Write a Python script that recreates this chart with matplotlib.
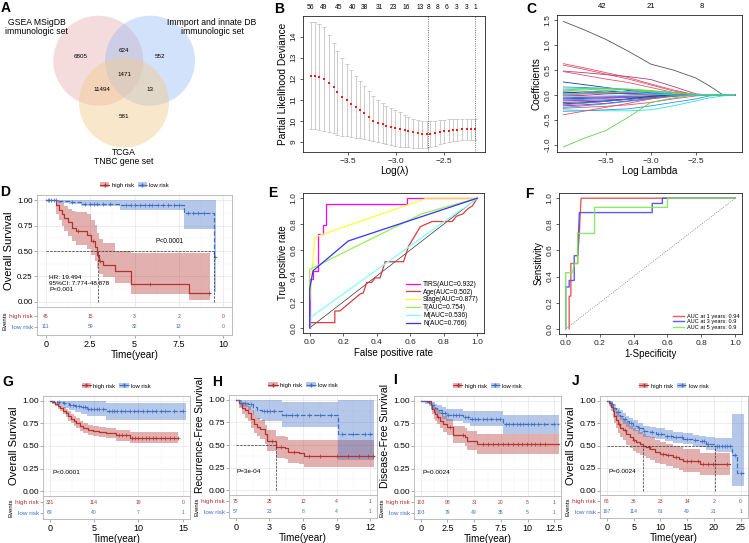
import numpy as np
import matplotlib
matplotlib.use('Agg')
import matplotlib.pyplot as plt
import matplotlib.transforms as mtransforms
from matplotlib.patches import Circle, Patch
from matplotlib.lines import Line2D

plt.rcParams['font.family'] = ['Liberation Sans', 'DejaVu Sans']
plt.rcParams['axes.linewidth'] = 0.6

# ---------------- A: Venn ----------------
venn_labels = ['GSEA MSigDB\nimmunologic set', 'Immport and innate DB\nimmunologic set', 'TCGA\nTNBC gene set']
venn_colors = ['#E9B3B3', '#9DBFF4', '#F3CB8E']
venn_counts = [6805, 624, 552, 1471, 11494, 13, 581]

# ---------------- B: cross-validation ----------------
b_loglam = [-3.89, -3.84, -3.80, -3.75, -3.70, -3.65, -3.61, -3.56, -3.51, -3.47, -3.42, -3.38, -3.33,
            -3.28, -3.24, -3.19, -3.14, -3.10, -3.05, -3.01, -2.96, -2.91, -2.87, -2.82, -2.77, -2.73,
            -2.68, -2.64, -2.59, -2.54, -2.50, -2.45, -2.40, -2.36, -2.31, -2.26, -2.22, -2.17]
b_mean = [12.15, 12.15, 12.10, 12.00, 11.80, 11.60, 11.35, 11.15, 11.00, 10.80, 10.65, 10.50, 10.35,
          10.20, 10.00, 9.90, 9.85, 9.75, 9.70, 9.65, 9.60, 9.55, 9.50, 9.45, 9.40, 9.38,
          9.36, 9.37, 9.40, 9.45, 9.50, 9.52, 9.55, 9.58, 9.60, 9.60, 9.60, 9.60]
b_upper = [14.70, 14.70, 14.60, 14.45, 14.10, 13.70, 13.30, 13.00, 12.70, 12.40, 12.15, 11.90, 11.65,
           11.40, 11.20, 11.00, 10.85, 10.70, 10.60, 10.50, 10.40, 10.30, 10.20, 10.10, 10.05, 10.00,
           9.98, 9.97, 9.99, 10.02, 10.05, 10.07, 10.08, 10.10, 10.10, 10.10, 10.10, 10.10]
b_lower = [9.60, 9.60, 9.55, 9.50, 9.45, 9.40, 9.35, 9.30, 9.28, 9.25, 9.20, 9.18, 9.15,
           9.10, 9.05, 9.00, 8.95, 8.88, 8.84, 8.80, 8.78, 8.76, 8.74, 8.73, 8.72, 8.72,
           8.72, 8.75, 8.80, 8.88, 8.95, 9.00, 9.02, 9.05, 9.07, 9.08, 9.08, 9.08]
b_top_loglam = [-3.89, -3.755, -3.594, -3.455, -3.325, -3.168, -3.028, -2.888, -2.748, -2.66,
                -2.566, -2.469, -2.364, -2.266, -2.171]
b_top_n = [56, 49, 45, 40, 38, 31, 23, 16, 13, 8, 8, 6, 3, 3, 1]
b_cut = [-2.66, -2.17]

# ---------------- C: coefficient paths ----------------
c_knots = [-3.97, -3.75, -3.5, -3.25, -3.0, -2.75, -2.5, -2.35, -2.2, -2.07]
c_paths = [
    [1.48, 1.32, 1.12, 0.88, 0.62, 0.50, 0.34, 0.18, 0.0],
    [0.63, 0.55, 0.45, 0.35, 0.22, 0.10, 0.0],
    [0.60, 0.52, 0.42, 0.32, 0.20, 0.08, 0.0],
    [0.48, 0.45, 0.41, 0.37, 0.31, 0.17, 0.02, 0.0],
    [0.47, 0.40, 0.32, 0.25, 0.15, 0.05, 0.0],
    [0.26, 0.21, 0.15, 0.09, 0.04, 0.01, 0.0],
    [0.16, 0.15, 0.13, 0.10, 0.06, 0.02, 0.0],
    [0.12, 0.13, 0.14, 0.11, 0.06, 0.01, 0.0],
    [0.10, 0.12, 0.13, 0.12, 0.09, 0.04, 0.0],
    [0.08, 0.10, 0.12, 0.11, 0.08, 0.05, 0.01, 0.0],
    [0.06, 0.05, 0.04, 0.02, 0.0],
    [0.04, 0.06, 0.08, 0.05, 0.02, 0.0],
    [0.02, 0.03, 0.05, 0.06, 0.04, 0.01, 0.0],
    [0.00, 0.02, 0.04, 0.02, 0.0],
    [-0.02, -0.01, 0.02, 0.03, 0.02, 0.0],
    [-0.04, -0.03, -0.02, -0.01, 0.0],
    [-0.06, -0.05, -0.04, -0.03, -0.02, -0.01, 0.0],
    [-0.08, -0.07, -0.06, -0.05, -0.04, -0.02, 0.0],
    [-0.10, -0.09, -0.07, -0.05, -0.03, 0.0],
    [-0.12, -0.11, -0.10, -0.08, -0.05, -0.02, 0.0],
    [-0.15, -0.14, -0.12, -0.09, -0.05, -0.01, 0.0],
    [-0.18, -0.16, -0.13, -0.08, -0.03, 0.0],
    [-0.20, -0.17, -0.13, -0.09, -0.05, -0.01, 0.0],
    [-0.22, -0.20, -0.17, -0.12, -0.07, -0.02, 0.0],
    [-0.25, -0.22, -0.18, -0.13, -0.08, -0.03, 0.0],
    [-0.27, -0.25, -0.23, -0.20, -0.15, -0.08, -0.02, 0.0],
    [-0.30, -0.31, -0.32, -0.32, -0.30, -0.22, -0.12, -0.06, -0.02, 0.0],
    [-0.33, -0.32, -0.30, -0.28, -0.22, -0.15, -0.08, -0.02, 0.0],
    [-0.40, -0.33, -0.25, -0.17, -0.08, -0.02, 0.0],
    [-1.05, -0.88, -0.72, -0.45, -0.15, -0.06, 0.0],
    [0.00, 0.02, 0.04, 0.06, 0.07, 0.05, 0.0],
    [0.00, 0.05, 0.10, 0.06, 0.02, 0.0],
]
c_colors = ['#555555', '#DF536B', '#DF536B', '#B0407A', '#DF536B', '#1F3A93', '#2297E6', '#28E2E5',
            '#61D04F', '#61D04F', '#CD0BBC', '#333333', '#2297E6', '#DF536B', '#CD0BBC', '#28E2E5',
            '#CD0BBC', '#1F3A93', '#2297E6', '#CD0BBC', '#1F3A93', '#333333', '#2297E6', '#CD0BBC',
            '#2297E6', '#DF536B', '#28E2E5', '#2297E6', '#DF536B', '#61D04F', '#61D04F', '#28E2E5']
c_top_loglam = [-3.537, -3.0, -2.437]
c_top_n = [42, 21, 8]

# ---------------- E: ROC of clinical factors ----------------
roc_names = ['TIRS(AUC=0.932)', 'Age(AUC=0.502)', 'Stage(AUC=0.877)', 'T(AUC=0.754)', 'M(AUC=0.536)', 'N(AUC=0.766)']
roc_colors = ['#FF00FF', '#E03A3A', '#FFFF33', '#99EE55', '#88FFFF', '#3333FF']
roc_fpr = [
    [0, 0, 0.02, 0.02, 0.05, 0.05, 0.08, 0.08, 0.10, 0.10, 0.58, 0.58, 1.0],
    [0, 0, 0.15, 0.15, 0.18, 0.30, 0.32, 0.34, 0.37, 0.39, 0.42, 0.45, 0.56, 0.59, 0.66, 0.73, 0.85, 0.875, 0.915, 0.945, 0.97, 1.0],
    [0, 0, 0.03, 0.70, 1.0],
    [0, 0, 0.03, 0.67, 1.0],
    [0, 0, 0.90, 0.93, 0.96, 1.0],
    [0, 0, 0.02, 0.23, 1.0],
]
roc_tpr = [
    [0, 0.38, 0.38, 0.44, 0.44, 0.72, 0.72, 0.79, 0.79, 0.955, 0.955, 1.0, 1.0],
    [0, 0.04, 0.04, 0.13, 0.13, 0.26, 0.27, 0.35, 0.35, 0.385, 0.385, 0.51, 0.51, 0.63, 0.78, 0.82, 0.82, 0.86, 0.88, 0.92, 0.94, 1.0],
    [0, 0.19, 0.70, 1.0, 1.0],
    [0, 0.45, 0.47, 0.88, 1.0],
    [0, 0.077, 0.91, 0.93, 0.96, 1.0],
    [0, 0.30, 0.44, 0.67, 1.0],
]

# ---------------- F: time-dependent ROC ----------------
troc_names = ['AUC at 1 years: 0.94', 'AUC at 3 years: 0.9', 'AUC at 5 years: 0.9']
troc_colors = ['#E84A4A', '#4A4AEE', '#7DE85A']
troc_fpr = [
    [0.02, 0.02, 0.03, 0.03, 0.07, 0.07, 0.08, 0.09, 1.0],
    [0, 0, 0.02, 0.02, 0.05, 0.05, 0.07, 0.08, 0.51, 0.51, 0.57, 0.57, 1.0],
    [0, 0, 0.04, 0.05, 0.07, 0.07, 0.17, 0.17, 0.60, 0.60, 1.0],
]
troc_tpr = [
    [0, 0.25, 0.25, 0.50, 0.50, 0.55, 0.73, 1.0, 1.0],
    [0, 0.32, 0.32, 0.37, 0.37, 0.56, 0.56, 0.89, 0.89, 0.96, 0.96, 1.0, 1.0],
    [0, 0.43, 0.43, 0.50, 0.50, 0.73, 0.73, 0.93, 0.93, 1.0, 1.0],
]

# ---------------- D, G-J: Kaplan-Meier ----------------
# D  (TCGA-TNBC, overall survival)
d_hi_t = [0, 0.6, 0.75, 0.9, 1.05, 1.25, 1.45, 1.7, 2.3, 2.55, 2.75, 2.9, 3.0, 3.2, 3.9, 4.8, 8.1]
d_hi_s = [1.0, 0.95, 0.90, 0.86, 0.82, 0.78, 0.73, 0.70, 0.66, 0.60, 0.54, 0.46, 0.40, 0.36, 0.30, 0.18, 0.09]
d_hi_up = [1.0, 1.0, 0.99, 0.97, 0.94, 0.91, 0.89, 0.88, 0.86, 0.80, 0.76, 0.68, 0.62, 0.58, 0.50, 0.48, 0.48]
d_hi_lo = [1.0, 0.86, 0.80, 0.75, 0.70, 0.65, 0.60, 0.56, 0.52, 0.46, 0.40, 0.33, 0.27, 0.24, 0.19, 0.08, 0.02]
d_hi_end = 9.25
d_hi_cens = [1.8, 2.65, 3.05, 5.9, 9.2]
d_lo_t = [0, 0.7, 1.3, 2.0, 4.2, 7.8, 9.5]
d_lo_s = [1.0, 0.99, 0.98, 0.965, 0.955, 0.87, 0.44]
d_lo_up = [1.0, 1.0, 1.0, 1.0, 1.0, 1.0, 1.0]
d_lo_lo = [1.0, 0.975, 0.96, 0.94, 0.90, 0.72, 0.10]
d_lo_end = 9.62
d_lo_cens = [0.1, 0.2, 0.3, 0.45, 0.55, 1.5, 2.2, 2.5, 2.7, 2.9, 3.2, 3.6, 4.5, 4.8, 5.0, 5.3, 5.6,
             5.8, 6.0, 6.3, 6.6, 6.9, 7.2, 7.5, 8.0, 8.3, 8.6, 8.9, 9.55]
d_tab_t = [0, 2.5, 5, 7.5, 10]
d_tab_hi = [45, 15, 3, 2, 0]
d_tab_lo = [111, 59, 32, 13, 0]

# G (overall survival)
g_hi_t = [0, 0.3, 0.6, 0.9, 1.2, 1.5, 1.8, 2.1, 2.4, 2.7, 3.0, 3.4, 3.8, 4.3, 4.9, 5.6, 6.4, 7.5, 9.1]
g_hi_s = [1.0, 0.98, 0.96, 0.94, 0.92, 0.89, 0.86, 0.83, 0.80, 0.77, 0.75, 0.72, 0.70, 0.68, 0.66, 0.65, 0.64, 0.62, 0.59]
g_hi_up = [1.0, 0.995, 0.985, 0.97, 0.955, 0.93, 0.905, 0.88, 0.85, 0.825, 0.805, 0.775, 0.755, 0.735, 0.715, 0.705, 0.695, 0.68, 0.65]
g_hi_lo = [1.0, 0.965, 0.94, 0.91, 0.885, 0.85, 0.815, 0.78, 0.75, 0.715, 0.695, 0.665, 0.645, 0.625, 0.605, 0.595, 0.585, 0.56, 0.53]
g_hi_end = 14.5
g_hi_cens = [7.8, 8.2, 8.6, 9.3, 9.6, 10.0, 10.4, 10.8, 11.2, 11.6, 12.0, 12.5, 13.0, 13.5, 14.0, 14.4]
g_lo_t = [0, 0.8, 1.5, 2.2, 2.8, 3.5, 4.2, 6.4]
g_lo_s = [1.0, 0.985, 0.97, 0.955, 0.94, 0.925, 0.91, 0.88]
g_lo_up = [1.0, 1.0, 1.0, 1.0, 1.0, 1.0, 0.99, 0.97]
g_lo_lo = [1.0, 0.95, 0.92, 0.895, 0.875, 0.855, 0.835, 0.79]
g_lo_end = 15.3
g_lo_cens = [1.0, 1.6, 2.3, 2.6, 3.0, 3.3, 3.7, 4.0, 4.3, 4.6, 5.0, 5.3, 5.6, 6.0, 6.7, 7.0, 7.3, 7.6,
             8.0, 8.5, 9.0, 9.5, 10.0, 10.5, 11.0, 11.5, 12.0, 12.5, 13.0, 14.0, 15.0]
g_tab_t = [0, 5, 10, 15]
g_tab_hi = [331, 114, 19, 0]
g_tab_lo = [69, 40, 7, 1]

# H (recurrence-free survival)
h_hi_t = [0, 0.3, 0.55, 0.8, 1.1, 1.35, 1.6, 1.9, 2.2, 2.6, 2.75, 3.57, 4.4, 4.7, 5.6, 6.05]
h_hi_s = [1.0, 0.96, 0.91, 0.88, 0.85, 0.79, 0.73, 0.70, 0.68, 0.62, 0.545, 0.48, 0.47, 0.42, 0.41, 0.38]
h_hi_up = [1.0, 1.0, 0.97, 0.95, 0.93, 0.88, 0.83, 0.80, 0.78, 0.72, 0.66, 0.60, 0.59, 0.55, 0.55, 0.55]
h_hi_lo = [1.0, 0.91, 0.84, 0.80, 0.76, 0.69, 0.63, 0.60, 0.57, 0.51, 0.43, 0.36, 0.35, 0.30, 0.29, 0.26]
h_hi_end = 12.3
h_hi_cens = [3.2, 4.0, 5.2, 6.5, 7.5, 9.0, 10.0, 11.0, 11.8, 12.2]
h_lo_t = [0, 0.4, 1.1, 1.5, 1.9, 2.3, 4.1, 9.1]
h_lo_s = [1.0, 0.965, 0.95, 0.92, 0.89, 0.87, 0.83, 0.62]
h_lo_up = [1.0, 1.0, 1.0, 1.0, 1.0, 1.0, 0.97, 1.0]
h_lo_lo = [1.0, 0.92, 0.88, 0.83, 0.79, 0.76, 0.70, 0.34]
h_lo_end = 12.3
h_lo_cens = [0.8, 1.4, 2.5, 2.8, 3.1, 3.4, 4.5, 5.0, 5.5, 6.5, 7.5, 8.5, 9.5, 10.5, 11.5, 12.0]
h_tab_t = [0, 3, 6, 9, 12]
h_tab_hi = [75, 25, 12, 4, 1]
h_tab_lo = [57, 23, 8, 4, 1]

# I (disease-free survival)
i_hi_t = [0, 0.9, 1.0, 1.1, 1.2, 1.35, 1.5, 1.8, 2.1, 2.5, 3.06, 4.15, 4.3, 5.25]
i_hi_s = [1.0, 0.99, 0.95, 0.91, 0.87, 0.85, 0.82, 0.78, 0.74, 0.71, 0.62, 0.60, 0.56, 0.52]
i_hi_up = [1.0, 1.0, 1.0, 0.97, 0.94, 0.92, 0.90, 0.87, 0.83, 0.80, 0.72, 0.70, 0.66, 0.63]
i_hi_lo = [1.0, 0.97, 0.90, 0.85, 0.80, 0.78, 0.74, 0.70, 0.65, 0.62, 0.53, 0.50, 0.46, 0.41]
i_hi_end = 12.9
i_hi_cens = [1.6, 2.7, 4.0, 5.8, 6.3, 6.8, 7.2, 7.7, 8.2, 8.6, 9.1, 9.5, 9.9, 10.3, 10.7, 11.2, 11.6]
i_lo_t = [0, 0.4, 0.8, 1.0, 1.3, 1.5, 1.97, 2.4, 4.0, 4.6, 7.7]
i_lo_s = [1.0, 0.985, 0.97, 0.95, 0.92, 0.90, 0.86, 0.84, 0.82, 0.80, 0.74]
i_lo_up = [1.0, 1.0, 0.995, 0.985, 0.965, 0.95, 0.925, 0.91, 0.89, 0.88, 0.84]
i_lo_lo = [1.0, 0.96, 0.94, 0.91, 0.875, 0.85, 0.80, 0.77, 0.75, 0.72, 0.63]
i_lo_end = 12.9
i_lo_cens = [2.0, 2.3, 2.6, 3.0, 3.3, 3.6, 4.1, 4.4, 4.8, 5.1, 5.4, 5.8, 6.2, 6.6, 7.0, 7.4, 8.0, 8.3,
             8.6, 9.0, 9.3, 9.6, 10.0, 10.3, 10.6, 11.0, 11.5, 12.5]
i_tab_t = [0, 2.5, 5, 7.5, 10, 12.5]
i_tab_hi = [103, 98, 31, 20, 5, 1]
i_tab_lo = [103, 79, 49, 35, 5, 1]

# J (overall survival)
j_hi_t = [0, 0.4, 0.8, 1.1, 1.4, 1.7, 2.0, 2.5, 3.0, 3.6, 4.25, 4.9, 5.5, 6.1, 6.75, 7.4, 8.0, 9.0, 9.9, 11.0, 12.4, 13.4, 14.3, 17.4]
j_hi_s = [1.0, 0.97, 0.93, 0.88, 0.83, 0.78, 0.74, 0.70, 0.67, 0.63, 0.59, 0.56, 0.54, 0.52, 0.50, 0.48, 0.46, 0.43, 0.41, 0.39, 0.37, 0.35, 0.33, 0.29]
j_hi_up = [1.0, 0.99, 0.98, 0.95, 0.92, 0.88, 0.85, 0.82, 0.79, 0.76, 0.72, 0.69, 0.67, 0.65, 0.63, 0.61, 0.59, 0.56, 0.54, 0.52, 0.50, 0.48, 0.46, 0.42]
j_hi_lo = [1.0, 0.94, 0.88, 0.81, 0.75, 0.69, 0.64, 0.60, 0.56, 0.51, 0.47, 0.44, 0.42, 0.40, 0.38, 0.36, 0.34, 0.31, 0.29, 0.27, 0.25, 0.23, 0.21, 0.17]
j_hi_end = 23.0
j_hi_cens = [2.3, 3.3, 5.0, 7.8, 10.5, 11.5, 13.0, 15.0, 15.8, 17.0, 18.0, 19.0, 19.8, 22.5]
j_lo_t = [0, 0.5, 1.1, 1.7, 2.4, 3.0, 3.6, 4.2, 4.9, 5.8, 6.75, 8.0, 9.25, 10.8, 12.4, 14.2, 16.1, 17.3, 18.6, 20.2, 23.4, 24.4]
j_lo_s = [1.0, 0.96, 0.92, 0.87, 0.83, 0.80, 0.77, 0.745, 0.72, 0.69, 0.66, 0.645, 0.63, 0.61, 0.59, 0.575, 0.56, 0.545, 0.52, 0.50, 0.39, 0.20]
j_lo_up = [1.0, 0.99, 0.96, 0.92, 0.89, 0.86, 0.83, 0.81, 0.78, 0.75, 0.72, 0.705, 0.69, 0.67, 0.65, 0.635, 0.62, 0.61, 0.59, 0.58, 0.85, 0.85]
j_lo_lo = [1.0, 0.93, 0.88, 0.82, 0.78, 0.74, 0.71, 0.68, 0.66, 0.63, 0.60, 0.585, 0.57, 0.55, 0.53, 0.515, 0.50, 0.48, 0.45, 0.43, 0.05, 0.05]
j_lo_end = 25.6
j_lo_cens = [1.0, 2.0, 3.3, 4.5, 6.0, 7.0, 8.5, 9.5, 10.2, 11.2, 12.0, 13.0, 14.0, 15.0, 16.5, 17.8,
             18.2, 19.0, 20.5, 21.0, 21.5, 22.0, 22.5, 23.0, 24.0, 25.0]
j_tab_t = [0, 5, 10, 15, 20, 25]
j_tab_hi = [68, 36, 23, 14, 2, 0]
j_tab_lo = [167, 114, 81, 49, 21, 1]

RED, BLUE = '#B5322E', '#3D6FC6'
W, H = 749, 543
fig = plt.figure(figsize=(W / 100, H / 100), dpi=100)


def box(l, t, r, b):
    # axes placed by pixel edges (top-left origin)
    return fig.add_axes([l / W, 1 - b / H, (r - l) / W, (b - t) / H])


def r_style(ax, size=6):
    for s in ax.spines.values():
        s.set_linewidth(0.6)
        s.set_color('#222222')
    ax.tick_params(direction='out', length=2.5, width=0.5, labelsize=size, pad=1.5, colors='#222222')
    ax.tick_params(axis='y', labelrotation=90)
    for lab in ax.get_yticklabels():
        lab.set_va('center')


# ---- A ----
axA = box(0, 0, 250, 175)
axA.set_xlim(0, 250)
axA.set_ylim(175, 0)
axA.axis('off')
for (cx, cy), col in zip([(98.3, 60.7), (150, 60.7), (124, 102.5)], venn_colors):
    axA.add_patch(Circle((cx, cy), 45, facecolor=col, alpha=0.45, lw=0))
for (x, y), lab in zip([(36.7, 27), (212, 27), (124, 157)], venn_labels):
    axA.text(x, y, lab, ha='center', va='center', fontsize=6.2, linespacing=1.05)
for (x, y), n in zip([(80.7, 56), (124, 50), (160, 56), (124, 74), (101.7, 89.3), (150, 89.3), (124, 116)], venn_counts):
    axA.text(x, y, str(n), ha='center', va='center', fontsize=4.5)

# ---- B ----
axB = box(303, 16, 485, 152)
bm = np.array(b_mean)
axB.errorbar(b_loglam, b_mean, yerr=[bm - np.array(b_lower), np.array(b_upper) - bm], fmt='none',
             ecolor='#C4C4C4', elinewidth=0.6, capsize=1.5, capthick=0.6)
axB.plot(b_loglam, b_mean, 's', color='#E8201A', ms=1.5, mew=0)
for v in b_cut:
    axB.axvline(v, color='#444444', ls=':', lw=0.6)
axB.set_xlim(-3.97, -2.07)
axB.set_ylim(8.52, 14.98)
axB.set_xticks([-3.5, -3.0, -2.5])
axB.set_yticks([9, 10, 11, 12, 13, 14])
r_style(axB)
trB = mtransforms.blended_transform_factory(axB.transData, axB.transAxes)
for lam, n in zip(b_top_loglam, b_top_n):
    axB.text(lam, 1.06, str(n), transform=trB, ha='center', va='center', fontsize=4.8)
axB.set_xlabel('Log(λ)', fontsize=7.2, labelpad=1)
axB.set_ylabel('Partial Likelihood Deviance', fontsize=7.3, labelpad=2)

# ---- C ----
axC = box(557, 15, 742, 152)
for path, col in zip(c_paths, c_colors):
    vals = path + [0.0] * (len(c_knots) - len(path))
    axC.plot(c_knots, vals, color=col, lw=0.6)
axC.set_xlim(-4.04, -1.99)
axC.set_ylim(-1.15, 1.61)
axC.set_xticks([-3.5, -3.0, -2.5])
axC.set_yticks([-1.0, -0.5, 0.0, 0.5, 1.0, 1.5])
axC.set_yticklabels(['-1.0', '-0.5', '0.0', '0.5', '1.0', '1.5'])
r_style(axC)
trC = mtransforms.blended_transform_factory(axC.transData, axC.transAxes)
for lam, n in zip(c_top_loglam, c_top_n):
    axC.text(lam, 1.06, str(n), transform=trC, ha='center', va='center', fontsize=5.5)
axC.set_xlabel('Log Lambda', fontsize=7.2, labelpad=1)
axC.set_ylabel('Coefficients', fontsize=7.3, labelpad=2)

# ---- E ----
axE = box(303, 193, 484, 333)
axE.plot([0, 1], [0, 1], color='#333333', lw=0.5)
for fpr, tpr, col, name in zip(roc_fpr, roc_tpr, roc_colors, roc_names):
    axE.plot(fpr, tpr, color=col, lw=0.9, label=name)
axE.set_xlim(-0.04, 1.04)
axE.set_ylim(-0.04, 1.04)
ticks01 = [0, 0.2, 0.4, 0.6, 0.8, 1.0]
axE.set_xticks(ticks01)
axE.set_yticks(ticks01)
axE.set_xticklabels(['0.0', '0.2', '0.4', '0.6', '0.8', '1.0'])
axE.set_yticklabels(['0.0', '0.2', '0.4', '0.6', '0.8', '1.0'])
r_style(axE)
axE.legend(loc='lower right', bbox_to_anchor=(0.99, 0.02), frameon=False, fontsize=4.8,
           handlelength=2.2, handletextpad=0.4, labelspacing=0.12, borderpad=0)
axE.set_xlabel('False positive rate', fontsize=7, labelpad=2)
axE.set_ylabel('True positive rate', fontsize=7, labelpad=2)

# ---- F ----
axF = box(559, 193, 742, 334)
axF.plot([0, 1], [0, 1], color='#777777', ls=':', lw=0.6)
for fpr, tpr, col, name in zip(troc_fpr, troc_tpr, troc_colors, troc_names):
    axF.plot(fpr, tpr, color=col, lw=1.0, alpha=0.9, label=name)
axF.set_xlim(-0.04, 1.04)
axF.set_ylim(-0.04, 1.04)
axF.set_xticks(ticks01)
axF.set_yticks(ticks01)
axF.set_xticklabels(['0.0', '0.2', '0.4', '0.6', '0.8', '1.0'])
axF.set_yticklabels(['0.0', '0.2', '0.4', '0.6', '0.8', '1.0'])
r_style(axF)
axF.legend(loc='lower right', bbox_to_anchor=(1.0, 0.01), frameon=False, fontsize=4.1,
           handlelength=2.0, handletextpad=0.4, labelspacing=0.1, borderpad=0)
axF.set_xlabel('1-Specificity', fontsize=7, labelpad=2)
axF.set_ylabel('Sensitivity', fontsize=7, labelpad=2)


# ---- KM panels ----
def km_panel(sbox, tbox, xlim, xticks, xlabels, ylabel, groups, tab_t, tab_hi, tab_lo,
             note, note_xy, tab_ylim, medians=None, ysize=6, ylab_size=8, ylab_y=0.5):
    ax = box(*sbox)
    ax_t = box(sbox[0], sbox[3], sbox[2], tbox)
    for a in (ax, ax_t):
        a.set_xlim(xlim)
        for s in a.spines.values():
            s.set_color('#B3B3B3')
            s.set_linewidth(0.6)
    ax.set_axisbelow(True)
    for (t, s, up, lo, end, cens), col, ls in zip(groups, (RED, BLUE), ('-', '--')):
        tt = np.r_[t, end]
        ax.fill_between(tt, np.r_[lo, lo[-1]], np.r_[up, up[-1]], step='post', color=col, alpha=0.38, lw=0)
        ax.step(tt, np.r_[s, s[-1]], where='post', color=col, ls=ls, lw=0.9)
        idx = np.searchsorted(t, cens, side='right') - 1
        ax.plot(cens, np.asarray(s)[idx], '+', color=col, ms=2.4, mew=0.5, ls='none')
    if medians:
        x_end, xs = medians
        ax.plot([0, x_end], [0.5, 0.5], ls='--', color='#333333', lw=0.5)
        ax.vlines(xs, 0, 0.5, linestyles='--', colors='#333333', lw=0.5)
    ax.set_ylim(-0.05, 1.05)
    ax.set_yticks([0, 0.25, 0.5, 0.75, 1.0])
    ax.set_yticklabels(['0.00', '0.25', '0.50', '0.75', '1.00'])
    ax.set_xticks(xticks)
    step = xticks[1] - xticks[0]
    ax.set_xticks(np.array(xticks[:-1]) + step / 2, minor=True)
    ax.set_yticks([0.125, 0.375, 0.625, 0.875], minor=True)
    ax.grid(True, which='major', color='#E6E6E6', lw=0.5)
    ax.grid(True, which='minor', color='#F2F2F2', lw=0.3)
    ax.tick_params(axis='x', which='both', length=0, labelbottom=False)
    ax.tick_params(axis='y', which='minor', length=0)
    ax.tick_params(axis='y', which='major', length=2, width=0.5, color='#888888', labelsize=ysize, pad=1)
    ax.set_ylabel(ylabel, fontsize=ylab_size, labelpad=2)
    ax.yaxis.label.set_y(ylab_y)
    ax.text(note_xy[0], note_xy[1], note, fontsize=4.6, ha='left', va='top', linespacing=1.25)
    handles = [(Patch(facecolor=RED, alpha=0.38, lw=0), Line2D([], [], color=RED, marker='+', ms=3, lw=0.8)),
               (Patch(facecolor=BLUE, alpha=0.38, lw=0), Line2D([], [], color=BLUE, marker='+', ms=3, lw=0.8, ls='--'))]
    gap = 10.0 / (sbox[3] - sbox[1])
    ax.legend(handles, ['high risk', 'low risk'], loc='center', bbox_to_anchor=(0.5, 1 + gap), ncol=2,
              frameon=False, fontsize=4.2, handlelength=1.6, handletextpad=0.4, columnspacing=0.7,
              borderaxespad=0, borderpad=0)
    # risk table
    ax_t.set_ylim(tab_ylim)
    ax_t.set_yticks([1, 0])
    ax_t.set_yticklabels(['high risk', 'low risk'])
    for lab, col in zip(ax_t.get_yticklabels(), (RED, BLUE)):
        lab.set_color(col)
    for t, nh, nl in zip(tab_t, tab_hi, tab_lo):
        ax_t.text(t, 1, str(nh), color=RED, fontsize=3.6, ha='center', va='center')
        ax_t.text(t, 0, str(nl), color=BLUE, fontsize=3.6, ha='center', va='center')
    ax_t.set_xticks(xticks)
    ax_t.set_xticklabels(xlabels)
    ax_t.tick_params(axis='y', length=2, width=0.5, color='#888888', labelsize=4.6, pad=1)
    ax_t.tick_params(axis='x', length=2, width=0.5, color='#888888', labelsize=6.5, pad=1.5)
    ax_t.set_ylabel('Events', fontsize=4.3, labelpad=1)
    ax_t.set_xlabel('Time(year)', fontsize=7.2, labelpad=1)
    return ax


axD = km_panel((37, 195, 232, 307), 335, (-0.5, 10.5), d_tab_t, ['0', '2.5', '5', '7.5', '10'], 'Overall Survival',
               [(d_hi_t, d_hi_s, d_hi_up, d_hi_lo, d_hi_end, d_hi_cens),
                (d_lo_t, d_lo_s, d_lo_up, d_lo_lo, d_lo_end, d_lo_cens)],
               d_tab_t, d_tab_hi, d_tab_lo, 'HR: 19.494\n95%CI: 7.774-48.878\nP<0.001', (0.19, 0.26),
               (-0.73, 1.82), medians=(9.5, [2.95, 9.5]), ysize=5.8)
axD.text(7.0, 0.59, 'P<0.0001', fontsize=4.7, ha='center', va='center')

km_panel((43, 396, 189.5, 496), 519, (-0.75, 15.75), g_tab_t, ['0', '5', '10', '15'], 'Overall Survival',
         [(g_hi_t, g_hi_s, g_hi_up, g_hi_lo, g_hi_end, g_hi_cens),
          (g_lo_t, g_lo_s, g_lo_up, g_lo_lo, g_lo_end, g_lo_cens)],
         g_tab_t, g_tab_hi, g_tab_lo, 'P<0.0001', (0.27, 0.24), (-0.55, 1.55))

km_panel((229, 395, 377, 495), 518, (-0.6, 12.6), h_tab_t, ['0', '3', '6', '9', '12'], 'Recurrence-Free Survival',
         [(h_hi_t, h_hi_s, h_hi_up, h_hi_lo, h_hi_end, h_hi_cens),
          (h_lo_t, h_lo_s, h_lo_up, h_lo_lo, h_lo_end, h_lo_cens)],
         h_tab_t, h_tab_hi, h_tab_lo, 'P=3e-04', (0.09, 0.24), (-0.55, 1.55), medians=(3.57, [3.57]),
         ylab_size=7.4, ylab_y=0.6)

km_panel((414, 396, 561, 496), 519, (-0.625, 13.125), i_tab_t, ['0', '2.5', '5', '7.5', '10', '12.5'],
         'Disease-Free Survival',
         [(i_hi_t, i_hi_s, i_hi_up, i_hi_lo, i_hi_end, i_hi_cens),
          (i_lo_t, i_lo_s, i_lo_up, i_lo_lo, i_lo_end, i_lo_cens)],
         i_tab_t, i_tab_hi, i_tab_lo, 'P=0.0024', (0.19, 0.24), (-0.55, 1.55),
         ylab_size=7.6, ylab_y=0.6)

km_panel((600, 396, 747.5, 495), 518, (-1.3, 26.3), j_tab_t, ['0', '5', '10', '15', '20', '25'], 'Overall Survival',
         [(j_hi_t, j_hi_s, j_hi_up, j_hi_lo, j_hi_end, j_hi_cens),
          (j_lo_t, j_lo_s, j_lo_up, j_lo_lo, j_lo_end, j_lo_cens)],
         j_tab_t, j_tab_hi, j_tab_lo, 'P=0.0024', (0.2, 0.24), (-0.55, 1.55), medians=(20.2, [6.75, 20.2]))

# panel letters
for letter, x, y in [('A', 1, 1), ('B', 274, 2), ('C', 526, 2), ('D', 0, 185), ('E', 268, 186), ('F', 525, 187),
                     ('G', 2, 375), ('H', 212, 375), ('I', 393, 373), ('J', 572, 374)]:
    fig.text(x / W, 1 - y / H, letter, fontsize=10, fontweight='bold', ha='left', va='top')

fig.savefig('out.png', dpi=100)
